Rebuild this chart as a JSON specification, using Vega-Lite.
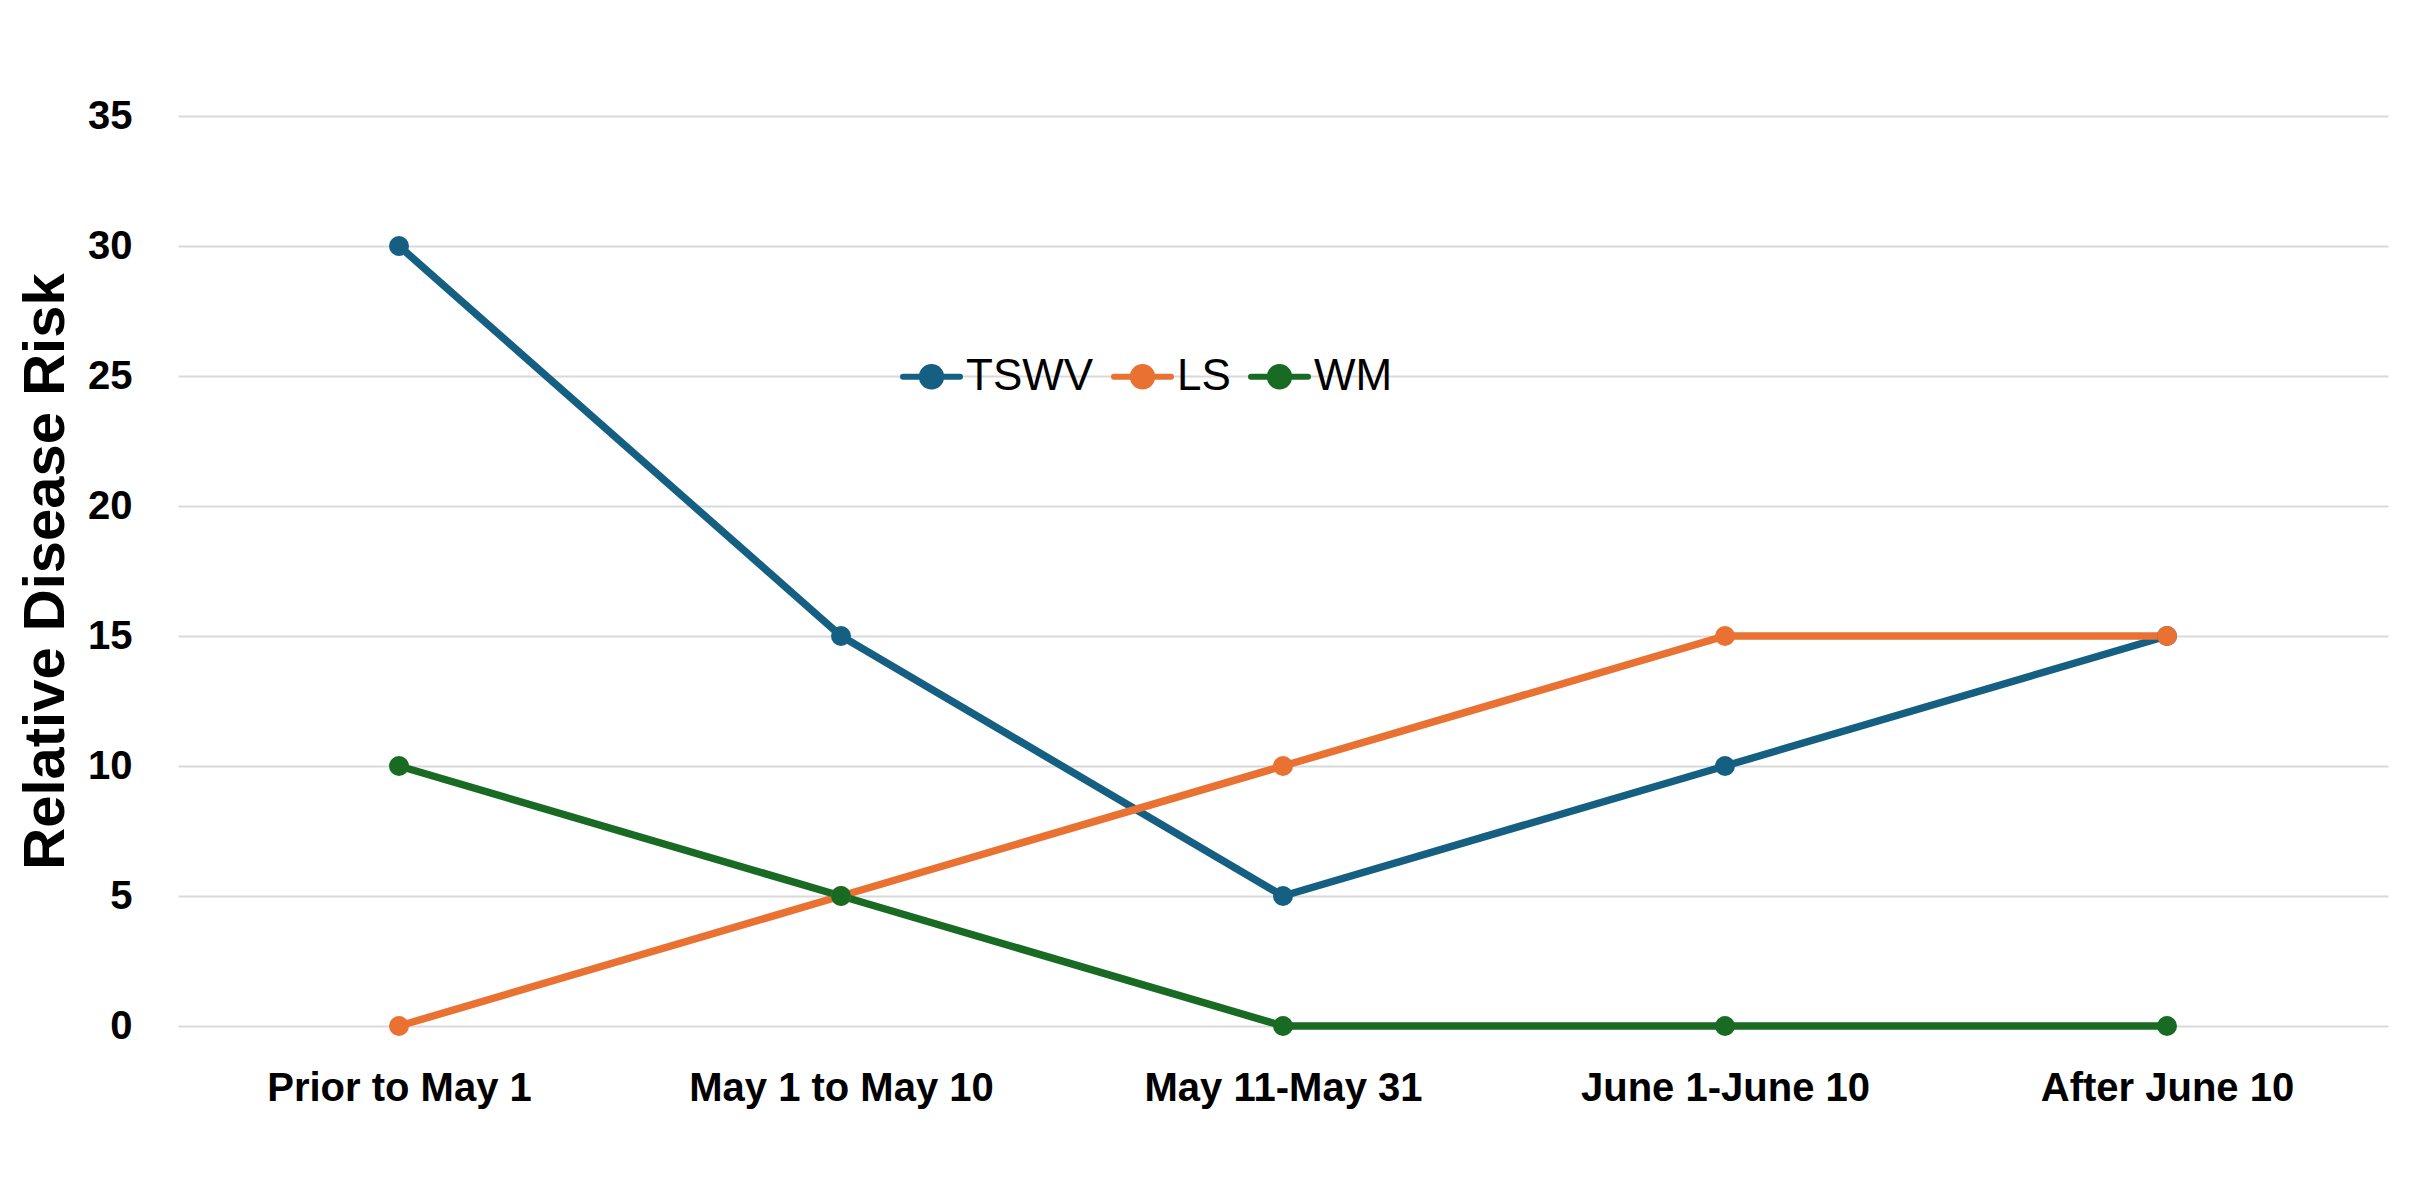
{
  "$schema": "https://vega.github.io/schema/vega-lite/v6.json",
  "width": 2210,
  "height": 910,
  "autosize": "none",
  "padding": {"left": 178, "top": 116, "right": 37, "bottom": 175},
  "background": "white",
  "config": {"view": {"stroke": null}},
  "data": {
    "values": [
      {"period": "Prior to May 1", "disease": "TSWV", "risk": 30},
      {"period": "May 1 to May 10", "disease": "TSWV", "risk": 15},
      {"period": "May 11-May 31", "disease": "TSWV", "risk": 5},
      {"period": "June 1-June 10", "disease": "TSWV", "risk": 10},
      {"period": "After June 10", "disease": "TSWV", "risk": 15},
      {"period": "Prior to May 1", "disease": "LS", "risk": 0},
      {"period": "May 1 to May 10", "disease": "LS", "risk": 5},
      {"period": "May 11-May 31", "disease": "LS", "risk": 10},
      {"period": "June 1-June 10", "disease": "LS", "risk": 15},
      {"period": "After June 10", "disease": "LS", "risk": 15},
      {"period": "Prior to May 1", "disease": "WM", "risk": 10},
      {"period": "May 1 to May 10", "disease": "WM", "risk": 5},
      {"period": "May 11-May 31", "disease": "WM", "risk": 0},
      {"period": "June 1-June 10", "disease": "WM", "risk": 0},
      {"period": "After June 10", "disease": "WM", "risk": 0}
    ]
  },
  "mark": {"type": "line", "strokeWidth": 7.5, "strokeCap": "round", "point": {"filled": true, "size": 400, "opacity": 1}},
  "encoding": {
    "x": {
      "field": "period",
      "type": "ordinal",
      "sort": ["Prior to May 1", "May 1 to May 10", "May 11-May 31", "June 1-June 10", "After June 10"],
      "scale": {"type": "point", "padding": 0.5},
      "axis": {
        "title": null,
        "labelAngle": 0,
        "labelFont": "Liberation Sans",
        "labelFontWeight": "bold",
        "labelFontSize": 40,
        "labelLimit": 0,
        "labelColor": "black",
        "labelPadding": 42,
        "ticks": false,
        "domain": false,
        "grid": false
      }
    },
    "y": {
      "field": "risk",
      "type": "quantitative",
      "scale": {"domain": [0, 35], "nice": false},
      "axis": {
        "values": [0, 5, 10, 15, 20, 25, 30, 35],
        "grid": true,
        "gridColor": "#d9d9d9",
        "gridWidth": 2,
        "ticks": false,
        "domain": false,
        "labelFont": "Liberation Sans",
        "labelFontWeight": "bold",
        "labelFontSize": 40,
        "labelColor": "black",
        "labelPadding": 46,
        "title": "Relative Disease Risk",
        "titleFont": "Liberation Sans",
        "titleFontWeight": "bold",
        "titleFontSize": 58,
        "titleColor": "black",
        "titlePadding": 12
      }
    },
    "color": {
      "field": "disease",
      "type": "nominal",
      "sort": ["TSWV", "LS", "WM"],
      "scale": {"domain": ["TSWV", "LS", "WM"], "range": ["#156082", "#E97132", "#196B24"]},
      "legend": {
        "orient": "none",
        "legendX": 722,
        "legendY": 229,
        "direction": "horizontal",
        "title": null,
        "symbolType": "M-1,0H1M-0.34,0A0.34,0.34 0 1,0 0.34,0A0.34,0.34 0 1,0 -0.34,0",
        "symbolSize": 3249,
        "symbolStrokeWidth": 6,
        "labelFont": "Liberation Sans",
        "labelFontSize": 44,
        "labelOffset": 3,
        "columnPadding": 8,
        "labelColor": "black",
        "encode": {
          "symbols": {"update": {"fill": {"scale": "color", "field": "value"}, "stroke": {"scale": "color", "field": "value"}, "strokeCap": {"value": "round"}, "opacity": {"value": 1}}}
        }
      }
    }
  }
}
